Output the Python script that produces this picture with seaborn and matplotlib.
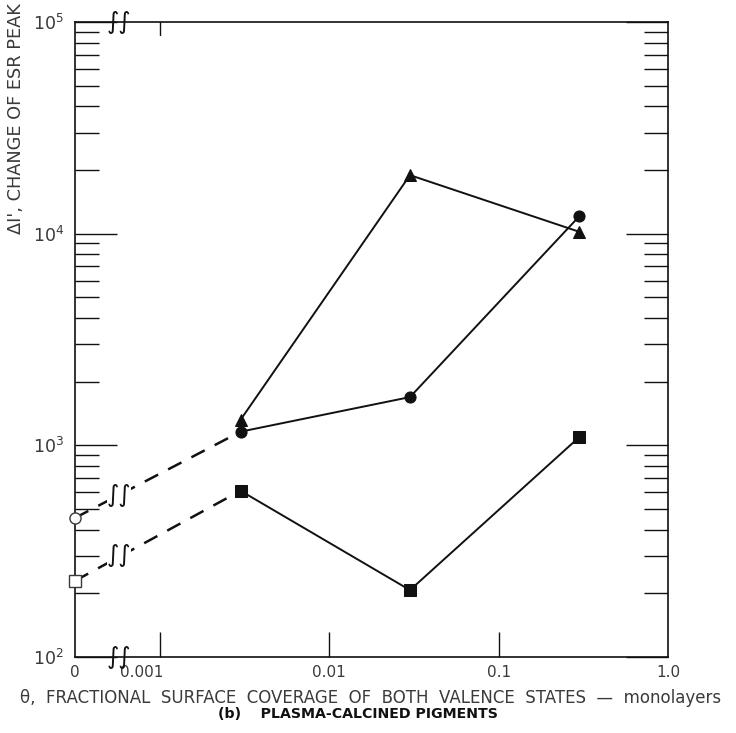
import numpy as np
import pandas as pd
import matplotlib
matplotlib.use("Agg")
import matplotlib.pyplot as plt
import matplotlib.transforms as mtransforms
from matplotlib.ticker import FixedLocator, NullLocator, LogLocator
import seaborn as sns

# data
coverage = [0.003, 0.03, 0.3]
triangles = [1320, 18900, 10200]
circles = [1160, 1690, 12100]
squares = [610, 207, 1095]
zero_circle = 454     # open circle, theta = 0
zero_square = 229     # open square, theta = 0
xtick_vals = [0.001, 0.01, 0.1, 1.0]
xtick_labels = ["0.001", "0.01", "0.1", "1.0"]
ytick_vals = [1e2, 1e3, 1e4, 1e5]
ytick_labels = [r"$10^2$", r"$10^3$", r"$10^4$", r"$10^5$"]

sns.set_style("ticks")
plt.rcParams["font.family"] = ["DejaVu Sans"]
plt.rcParams["mathtext.fontset"] = "dejavusans"

ink = "#111111"
grey = "#3a3a3a"

fig = plt.figure(figsize=(7.36, 7.33), dpi=100)
ax = fig.add_axes([0.1019, 0.1037, 0.8057, 0.8663])
ax.set_xscale("log")
ax.set_yscale("log")
x0 = 10 ** -3.5   # left edge stands for theta = 0
ax.set_xlim(x0, 1.0)
ax.set_ylim(1e2, 1e5)

df = pd.DataFrame({"coverage": coverage * 3,
                   "value": triangles + circles + squares,
                   "series": ["tri"] * 3 + ["circ"] * 3 + ["sq"] * 3})
sns.lineplot(data=df, x="coverage", y="value", hue="series", style="series",
             palette={"tri": ink, "circ": ink, "sq": ink},
             markers={"tri": "^", "circ": "o", "sq": "s"}, dashes=False,
             markersize=8, markeredgecolor=ink, linewidth=1.4,
             legend=False, ax=ax, sort=False)

# dashed extrapolations to zero coverage
for z, first in [(zero_circle, circles[0]), (zero_square, squares[0])]:
    ax.plot([x0, coverage[0]], [z, first], color=ink, lw=1.8,
            dashes=(6, 4.5), zorder=1)
ax.plot([x0], [zero_circle], "o", mfc="white", mec=grey, ms=8, mew=1,
        clip_on=False, zorder=5)
ax.plot([x0], [zero_square], "s", mfc="white", mec=grey, ms=8, mew=1,
        clip_on=False, zorder=5)

# axis break marks
brk_x = 10 ** -3.24
for yv in [1e2, 1e5]:
    ax.text(brk_x, yv, "\u222b\u222b", fontsize=17, color=ink, ha="center",
            va="center", style="italic", clip_on=False, zorder=6)
for yv in [zero_circle * 1.28, zero_square * 1.33]:
    ax.text(brk_x, yv, "\u222b\u222b", fontsize=17, color=ink, ha="center",
            va="center", style="italic", zorder=6,
            bbox=dict(fc="white", ec="none", pad=0))

# ticks
ax.xaxis.set_major_locator(FixedLocator([x0] + xtick_vals))
ax.set_xticklabels(["0"] + xtick_labels)
ax.xaxis.set_minor_locator(NullLocator())
ax.yaxis.set_major_locator(FixedLocator(ytick_vals))
ax.set_yticklabels(ytick_labels)
ax.yaxis.set_minor_locator(LogLocator(base=10, subs=np.arange(2, 10)))
ax.yaxis.set_minor_formatter(plt.NullFormatter())
ax.tick_params(axis="y", which="major", direction="in", length=30, width=1,
               color=ink, labelsize=12.5, labelcolor=grey, pad=8,
               left=True, right=True)
ax.tick_params(axis="y", which="minor", direction="in", length=17, width=1,
               color=ink, left=True, right=True)
ax.tick_params(axis="x", which="major", direction="in", length=18, width=1,
               color=ink, labelsize=11, labelcolor=grey, pad=6, top=False)
xt = ax.xaxis.get_major_ticks()
xt[0].tick1line.set_visible(False)
xt[-1].tick1line.set_visible(False)
shift = mtransforms.ScaledTranslation(-0.18, 0, fig.dpi_scale_trans)
xt[1].label1.set_transform(xt[1].label1.get_transform() + shift)
# single tick on the top edge at 0.001
ax.plot([0.001, 0.001], [1e5, 10 ** 4.94], color=ink, lw=1)

for s in ax.spines.values():
    s.set_color(ink)
    s.set_linewidth(1.2)

ax.set_xlabel("")
ax.set_ylabel("")
fig.text(0.503, 1 - 698 / 733,
         "\u03b8,  FRACTIONAL  SURFACE  COVERAGE  OF  BOTH  VALENCE  STATES  \u2014  monolayers",
         ha="center", va="center", fontsize=12.0, color=grey)
fig.text(0.486, 1 - 714 / 733, "(b)    PLASMA-CALCINED PIGMENTS", ha="center",
         va="center", fontsize=10.2, color=ink, weight="bold")
fig.text(0.022, 1 - 234 / 733, "\u0394I', CHANGE OF ESR PEAK", rotation=90,
         ha="center", va="bottom", fontsize=12.8, color=grey)

fig.savefig("out.png", dpi=100)
